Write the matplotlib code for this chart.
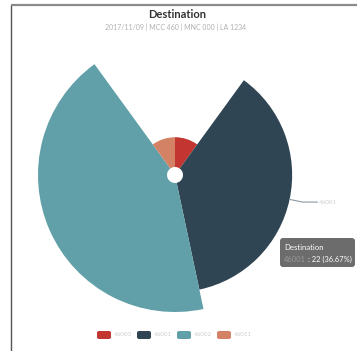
import matplotlib
matplotlib.use('Agg')
import matplotlib.pyplot as plt
import numpy as np
from matplotlib.patches import FancyBboxPatch

# ---- data ----
categories = ['46000', '46001', '46002', '46011']
values = [6, 22, 26, 6]
colors = ['#c23531', '#2f4554', '#61a0a8', '#d48265']
title = 'Destination'
subtitle = '2017/11/09 | MCC 460 | MNC 000 | LA 1234'
series_name = 'Destination'
highlight = 1  # index of slice with tooltip / label

W, H = 357, 351
fig = plt.figure(figsize=(W / 100, H / 100), dpi=100)
fig.patch.set_facecolor('white')

cx, cy = 175, 175
Rax = 142
pax = fig.add_axes([(cx - Rax) / W, (H - cy - Rax) / H, 2 * Rax / W, 2 * Rax / H],
                   projection='polar')
pax.set_theta_zero_location('N')
pax.set_theta_direction(-1)
pax.set_ylim(0, Rax)
pax.axis('off')

total = sum(values)
vmax = max(values)
r_inner, r_outer = 8, 137
start = 0.0
mids, radii = [], []
for v, c in zip(values, colors):
    w = v / total * 2 * np.pi
    r = r_inner + v / vmax * (r_outer - r_inner)
    pax.bar(start, r - r_inner, width=w, bottom=r_inner, align='edge',
            color=c, edgecolor='none', linewidth=0)
    mids.append(start + w / 2)
    radii.append(r)
    start += w

# overlay in pixel coords
ov = fig.add_axes([0, 0, 1, 1], zorder=5)
ov.set_xlim(0, W)
ov.set_ylim(H, 0)
ov.axis('off')
ov.patch.set_alpha(0)

# frame lines
ov.plot([11, 11], [5, H], color='#555555', lw=1.0, solid_capstyle='butt')
ov.plot([11, W], [5, 5], color='#8a8a8a', lw=1.6, solid_capstyle='butt')

# title
ov.text(177, 14, title, ha='center', va='center', fontsize=8, weight='bold',
        color='#333333', family='Lato')
ov.text(176, 27, subtitle, ha='center', va='center', fontsize=5.0,
        color='#b0b0b0', family='Lato')

# leader line + label for highlighted slice
a = mids[highlight]
r = radii[highlight]
x0, y0 = cx + r * np.sin(a), cy - r * np.cos(a)
x1, y1 = cx + (r + 13) * np.sin(a), cy - (r + 13) * np.cos(a)
ov.plot([x0, x1, x1 + 15], [y0, y1, y1], color='#8a9aa5', lw=0.8)
ov.text(x1 + 17, y1, categories[highlight], ha='left', va='center',
        fontsize=4.5, color='#cfcfcf', family='Lato')

# tooltip
pct = values[highlight] / total * 100
tip = FancyBboxPatch((280, 238), 75, 29, boxstyle='round,pad=0,rounding_size=3',
                     facecolor=(0.2, 0.2, 0.2, 0.72), edgecolor='none')
ov.add_patch(tip)
ov.text(284, 247, series_name, ha='left', va='center', fontsize=5.6,
        color='white', family='Lato')
cat_txt = ov.text(284, 259, categories[highlight], ha='left', va='center',
                  fontsize=5.4, color='#9a9a9a', family='Lato')
ov.annotate(': %d (%.2f%%)' % (values[highlight], pct), xy=(1, 0.5),
            xycoords=cat_txt, xytext=(1.5, 0), textcoords='offset points',
            ha='left', va='center', fontsize=5.4, color='white', family='Lato')

# legend
lx0, ly = 97, 335
for i, (cat, c) in enumerate(zip(categories, colors)):
    x = lx0 + i * 40
    ov.add_patch(FancyBboxPatch((x, ly - 4), 14, 8,
                                boxstyle='round,pad=0,rounding_size=2',
                                facecolor=c, edgecolor='none'))
    ov.text(x + 17, ly, cat, ha='left', va='center', fontsize=4.5,
            color='#d0d0d0', family='Lato')

fig.savefig('out.png', dpi=100)
